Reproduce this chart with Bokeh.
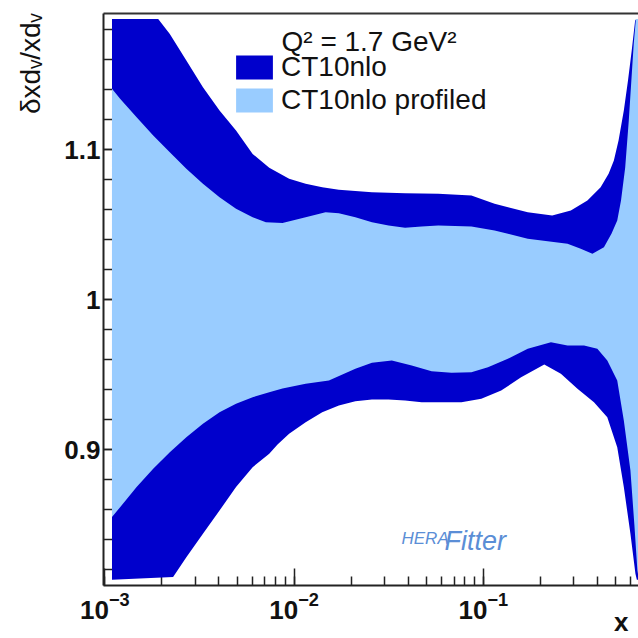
from bokeh.plotting import figure
from bokeh.models import Legend, LegendItem, Label, FixedTicker, LinearAxis, Range1d, Title
from bokeh.embed import file_html
from bokeh.resources import INLINE

# ---- data ----
# CT10nlo band (dark): upper and lower edges
ct10_up_x = [0.00109, 0.001913, 0.002203, 0.002694, 0.003297, 0.004035, 0.004932, 0.006037,
             0.007389, 0.009412, 0.011508, 0.014083, 0.017233, 0.02579, 0.03859, 0.05781,
             0.0865, 0.1147, 0.1717, 0.2312, 0.2901, 0.3549, 0.4169, 0.4594, 0.4898, 0.5185,
             0.5529, 0.5817, 0.6087, 0.6345, 0.6445, 0.665]
ct10_up_y = [1.1873, 1.1873, 1.1773, 1.1595, 1.1417, 1.1262, 1.1129, 1.0973,
             1.0880, 1.0807, 1.0773, 1.0751, 1.0733, 1.0717, 1.0711, 1.0707,
             1.0695, 1.0640, 1.0584, 1.0562, 1.0595, 1.0662, 1.0751, 1.0840, 1.0929, 1.1062,
             1.1262, 1.1462, 1.1662, 1.1862, 1.1873, 1.1873]
ct10_lo_x = [0.00109, 0.002293, 0.002694, 0.003297, 0.004035, 0.004932, 0.006037, 0.007389,
             0.008173, 0.009412, 0.011508, 0.014083, 0.017233, 0.02107, 0.02579, 0.03155,
             0.03859, 0.04722, 0.05781, 0.07663, 0.09761, 0.1243, 0.1584, 0.2100, 0.2570,
             0.3145, 0.3845, 0.4521, 0.5103, 0.5529, 0.5992, 0.6368, 0.6480, 0.665]
ct10_lo_y = [0.8133, 0.8151, 0.8284, 0.8440, 0.8595, 0.8751, 0.8884, 0.8973,
             0.9035, 0.9107, 0.9184, 0.9251, 0.9295, 0.9324, 0.9335, 0.9335,
             0.9329, 0.9317, 0.9317, 0.9317, 0.9340, 0.9395, 0.9484, 0.9569, 0.9507,
             0.9407, 0.9317, 0.9217, 0.9017, 0.8751, 0.8440, 0.8173, 0.8133, 0.8133]

# CT10nlo profiled band (light): upper and lower edges
prof_up_x = [0.00109, 0.001203, 0.001471, 0.0018, 0.002203, 0.002694, 0.003297, 0.004035,
             0.004932, 0.006037, 0.007092, 0.008681, 0.011508, 0.01466, 0.017233, 0.02107,
             0.02579, 0.03155, 0.03859, 0.04722, 0.05781, 0.0865, 0.1147, 0.1717, 0.2787,
             0.3273, 0.3772, 0.434, 0.4763, 0.5103, 0.5343, 0.5622, 0.5873, 0.6237, 0.6406, 0.665]
prof_up_y = [1.1407, 1.1340, 1.1217, 1.1095, 1.0984, 1.0873, 1.0773, 1.0684,
             1.0607, 1.0551, 1.0517, 1.0512, 1.0551, 1.0584, 1.0577, 1.0551,
             1.0517, 1.0495, 1.0480, 1.0489, 1.0495, 1.0489, 1.0462, 1.0407, 1.0373,
             1.0340, 1.0307, 1.0351, 1.0442, 1.0529, 1.0662, 1.0882, 1.1195, 1.1707, 1.1873, 1.1873]
prof_lo_x = [0.00109, 0.001203, 0.001471, 0.0018, 0.002203, 0.002694, 0.003297, 0.004035,
             0.004932, 0.006037, 0.007389, 0.008681, 0.011508, 0.01527, 0.02107, 0.02579,
             0.03285, 0.04184, 0.05329, 0.06789, 0.0865, 0.1058, 0.1348, 0.1717, 0.2277,
             0.2787, 0.3406, 0.4005, 0.4521, 0.5103, 0.5529, 0.5992, 0.629, 0.6522, 0.665]
prof_lo_y = [0.8551, 0.8617, 0.8751, 0.8873, 0.8984, 0.9084, 0.9173, 0.9251,
             0.9307, 0.9351, 0.9384, 0.9409, 0.9440, 0.9462, 0.9540, 0.9580,
             0.9595, 0.9562, 0.9524, 0.9513, 0.9517, 0.9551, 0.9607, 0.9673, 0.9717,
             0.9695, 0.9695, 0.9673, 0.9595, 0.9462, 0.9195, 0.8862, 0.8495, 0.8195, 0.8133]

series_labels = ["CT10nlo", "CT10nlo profiled"]
legend_title = "Q\u00b2 = 1.7 GeV\u00b2"
y_title = "\u03b4xd\u1d65/xd\u1d65"
x_title = "x"

y_major_ticks = [0.9, 1.0, 1.1]
y_minor_ticks = [0.82, 0.84, 0.86, 0.88, 0.90, 0.92, 0.94, 0.96, 0.98, 1.00,
                 1.02, 1.04, 1.06, 1.08, 1.10, 1.12, 1.14, 1.16, 1.18]
x_min, x_max = 0.000983, 0.661
y_min, y_max = 0.8095, 1.1909

DARK = "#0000CC"
LIGHT = "#99CCFF"
FONT = "Liberation Sans"

p = figure(width=638, height=638, x_axis_type="log",
           x_range=Range1d(x_min, x_max), y_range=Range1d(y_min, y_max),
           output_backend="svg", toolbar_location=None,
           min_border_left=100, min_border_right=0, min_border_top=13, min_border_bottom=53)
p.outline_line_color = None
p.xgrid.visible = False
p.ygrid.visible = False
p.background_fill_color = "white"
p.border_fill_color = "white"

dark = p.patch(ct10_up_x + ct10_lo_x[::-1], ct10_up_y + ct10_lo_y[::-1],
               fill_color=DARK, line_color=None)
light = p.patch(prof_up_x + prof_lo_x[::-1], prof_up_y + prof_lo_y[::-1],
                fill_color=LIGHT, line_color=None)
dark.level = "annotation"
light.level = "annotation"

# axes
for ax in (p.xaxis[0], p.yaxis[0]):
    ax.axis_line_width = 2
    ax.axis_line_color = "#222222"
    ax.major_tick_line_width = 1.5
    ax.minor_tick_line_width = 1.5
    ax.major_tick_line_color = "#222222"
    ax.minor_tick_line_color = "#222222"
    ax.major_tick_in = 17
    ax.major_tick_out = 0
    ax.minor_tick_in = 9
    ax.minor_tick_out = 0
    ax.major_label_text_font = FONT
    ax.major_label_text_font_style = "bold"
    ax.major_label_text_font_size = "26px"
    ax.major_label_text_color = "#111111"

p.xaxis.major_label_standoff = 6
p.yaxis.major_label_standoff = 3
p.yaxis.ticker = FixedTicker(ticks=y_major_ticks, minor_ticks=y_minor_ticks)
p.yaxis.major_label_overrides = {1: "1"}

top = LinearAxis(ticker=FixedTicker(ticks=[]), axis_line_width=2, axis_line_color="#333333",
                 major_tick_in=0, major_tick_out=0, minor_tick_in=0, minor_tick_out=0,
                 major_label_text_font_size="0px")
p.add_layout(top, "above")

# axis titles placed in the side panels
p.add_layout(Title(text=y_title, align="right", vertical_align="top", offset=0,
                   standoff=28, text_font=FONT, text_font_style="normal",
                   text_font_size="28px", text_color="#111111"), "left")
p.add_layout(Title(text=x_title, align="right", vertical_align="middle", offset=10,
                   standoff=-31, text_font=FONT, text_font_style="bold",
                   text_font_size="26px", text_color="#111111"), "below")

legend = Legend(items=[LegendItem(label=series_labels[0], renderers=[dark]),
                       LegendItem(label=series_labels[1], renderers=[light])],
                location=(128, 469), padding=0, margin=0, spacing=1,
                border_line_color=None, background_fill_alpha=0,
                glyph_width=46, glyph_height=30, label_standoff=4,
                label_text_font=FONT, label_text_font_size="28px", label_text_color="#111111")
p.add_layout(legend)

p.add_layout(Label(x=178, y=544, x_units="screen", y_units="screen", text=legend_title,
                   text_font=FONT, text_font_size="28px", text_color="#111111",
                   text_baseline="alphabetic"))

# HERAFitter logo text
p.add_layout(Label(x=298, y=47, x_units="screen", y_units="screen", text="HERA",
                   text_font=FONT, text_font_style="italic", text_font_size="17px",
                   text_color="#5B8ED6", text_baseline="alphabetic"))
p.add_layout(Label(x=341, y=45, x_units="screen", y_units="screen", text="Fitter",
                   text_font=FONT, text_font_style="italic", text_font_size="27px",
                   text_color="#5B8ED6", text_baseline="alphabetic"))

open("out.html", "w").write(file_html(p, INLINE))
